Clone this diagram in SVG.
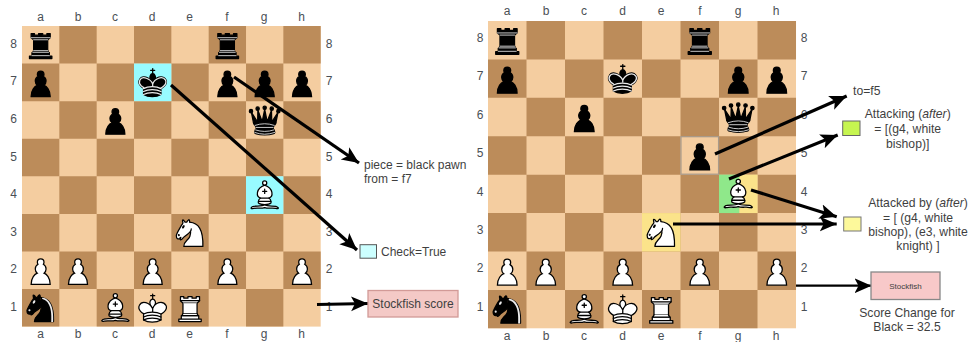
<svg xmlns="http://www.w3.org/2000/svg" xmlns:xlink="http://www.w3.org/1999/xlink" width="971" height="342" viewBox="0 0 971 342">
<style>
text{font-family:"Liberation Sans",Arial,sans-serif;font-size:12px;fill:#3f3f3f}
.c{fill:#4a4f55;font-size:12px;text-anchor:middle}
.m{text-anchor:middle;font-size:12.2px}
.r{font-size:12.2px}
.lt{fill:#f4cda0}.dk{fill:#bc8c5a}
.pc{fill-rule:evenodd;stroke:#000;stroke-width:1.5;stroke-linecap:round;stroke-linejoin:round}
.gy{fill:none;stroke:#ececec;stroke-width:1;stroke-linejoin:miter}
.ar{fill:none;stroke:#000;stroke-width:3.200;marker-end:url(#ah)}
</style>
<defs>
<marker id="ah" markerUnits="userSpaceOnUse" markerWidth="20" markerHeight="20" refX="17" refY="10" orient="auto"><path d="M0 2.500L17 10L0 17.500L4 10z" fill="#000"/></marker>
<g id="board"><rect class="lt" width="360" height="360"/><path class="dk" d="M45 0h45v45h-45zM135 0h45v45h-45zM225 0h45v45h-45zM315 0h45v45h-45zM0 45h45v45h-45zM90 45h45v45h-45zM180 45h45v45h-45zM270 45h45v45h-45zM45 90h45v45h-45zM135 90h45v45h-45zM225 90h45v45h-45zM315 90h45v45h-45zM0 135h45v45h-45zM90 135h45v45h-45zM180 135h45v45h-45zM270 135h45v45h-45zM45 180h45v45h-45zM135 180h45v45h-45zM225 180h45v45h-45zM315 180h45v45h-45zM0 225h45v45h-45zM90 225h45v45h-45zM180 225h45v45h-45zM270 225h45v45h-45zM45 270h45v45h-45zM135 270h45v45h-45zM225 270h45v45h-45zM315 270h45v45h-45zM0 315h45v45h-45zM90 315h45v45h-45zM180 315h45v45h-45zM270 315h45v45h-45z"/></g>
<path id="pawn" d="M22.500 9c-2.210 0-4 1.790-4 4 0 .89.29 1.710.78 2.380C17.330 16.500 16 18.590 16 21c0 2.030.94 3.840 2.410 5.030-3 1.060-7.410 5.550-7.410 13.470h23c0-7.920-4.410-12.410-7.410-13.470 1.470-1.190 2.410-3 2.410-5.030 0-2.410-1.330-4.500-3.280-5.620.49-.67.78-1.490.78-2.380 0-2.210-1.790-4-4-4z" stroke="#000" stroke-width="1.500" stroke-linecap="round"/>
<use id="bp" xlink:href="#pawn" href="#pawn" fill="#000"/>
<use id="wp" xlink:href="#pawn" href="#pawn" fill="#fff"/>
<g id="br" class="pc"><path d="M9 39h27v-3H9v3zM12.500 32l1.500-2.500h17l1.500 2.500h-20zM12 36v-4h21v4H12z" stroke-linecap="butt"/><path d="M14 29.500v-13h17v13H14z" stroke-linecap="butt" stroke-linejoin="miter"/><path d="M14 16.500L11 14h23l-3 2.500H14zM11 14V9h4v2h5V9h5v2h5V9h4v5H11z" stroke-linecap="butt"/><path class="gy" d="M12 35.500h21M13 31.500h19M14 29.500h17M14 16.500h17M11 14h23"/></g>
<g id="wr" class="pc" fill="#fff"><path d="M9 39h27v-3H9v3zM12 36v-4h21v4H12zM11 14V9h4v2h5V9h5v2h5V9h4v5" stroke-linecap="butt"/><path d="M34 14l-3 3H14l-3-3"/><path d="M31 17v12.500H14V17" stroke-linecap="butt" stroke-linejoin="miter"/><path d="M31 29.500l1.500 2.500h-20l1.500-2.500"/><path d="M11 14h23" fill="none" stroke-linejoin="miter"/></g>
<g id="wn" class="pc" fill="#fff"><path d="M22 10c10.500 1 16.500 8 16 29H15c0-9 10-6.500 8-21"/><path d="M24 18c.38 2.910-5.550 7.370-8 9-3 2-2.820 4.340-5 4-1.042-.94 1.410-3.040 0-3-1 0 .19 1.230-1 2-1 0-4.003 1-4-4 0-2 6-12 6-12s1.890-1.900 2-3.500c-.73-.994-.5-2-.5-3 1-1 3 2.500 3 2.500h2s.78-1.992 2.500-3c1 0 1 3 1 3"/><path d="M9.500 25.500a.5.5 0 1 1-1 0 .5.5 0 1 1 1 0zm5.433-9.750a.5 1.500 30 1 1-.866-.5.5 1.500 30 1 1 .866.5z" fill="#000"/></g>
<g id="bn" class="pc" fill="#000"><path d="M22 10c10.500 1 16.500 8 16 29H15c0-9 10-6.500 8-21"/><path d="M24 18c.38 2.910-5.550 7.370-8 9-3 2-2.820 4.340-5 4-1.042-.94 1.410-3.040 0-3-1 0 .19 1.230-1 2-1 0-4.003 1-4-4 0-2 6-12 6-12s1.890-1.900 2-3.500c-.73-.994-.5-2-.5-3 1-1 3 2.500 3 2.500h2s.78-1.992 2.500-3c1 0 1 3 1 3"/><path d="M9.500 25.500a.5.5 0 1 1-1 0 .5.5 0 1 1 1 0zm5.433-9.750a.5 1.500 30 1 1-.866-.5.5 1.500 30 1 1 .866.5z" fill="#ececec" stroke="#ececec"/><path d="M24.550 10.400l-.45 1.450.5.15c3.150 1 5.650 2.490 7.900 6.750S35.750 29.060 35.250 39l-.05.5h2.250l.05-.5c.5-10.060-.88-16.850-3.250-21.340-2.370-4.490-5.790-6.640-9.190-7.160l-.51-.1z" fill="#ececec" stroke="none"/></g>
<g id="wb" class="pc" fill="none"><g fill="#fff" stroke-linecap="butt"><path d="M9 36c3.390-.97 10.110.43 13.500-2 3.390 2.430 10.110 1.030 13.500 2 0 0 1.650.54 3 2-.68.97-1.650.99-3 .5-3.390-.97-10.110.46-13.500-1-3.390 1.460-10.110.03-13.500 1-1.354.49-2.323.47-3-.5 1.354-1.940 3-2 3-2z"/><path d="M15 32c2.500 2.500 12.500 2.500 15 0 .5-1.500 0-2 0-2 0-2.500-2.500-4-2.500-4 5.500-1.500 6-11.500-5-15.500-11 4-10.500 14-5 15.500 0 0-2.500 1.500-2.500 4 0 0-.5.5 0 2z"/><path d="M25 8a2.500 2.500 0 1 1-5 0 2.500 2.500 0 1 1 5 0z"/></g><path d="M17.500 26h10M15 30h15m-7.500-14.500v5M20 18h5" stroke-linejoin="miter"/></g>
<g id="wk" class="pc" fill="none"><path d="M22.500 11.630V6M20 8h5" stroke-linejoin="miter"/><path d="M22.500 25s4.500-7.500 3-10.500c0 0-1-2.500-3-2.500s-3 2.500-3 2.500c-1.500 3 3 10.500 3 10.500" fill="#fff" stroke-linecap="butt" stroke-linejoin="miter"/><path d="M11.500 37c5.500 3.500 15.500 3.500 21 0v-7s9-4.500 6-10.500c-4-6.500-13.500-3.500-16 4V27v-3.500c-3.500-7.500-13-10.500-16-4-3 6 5 10 5 10V37z" fill="#fff"/><path d="M11.500 30c5.500-3 15.500-3 21 0m-21 3.500c5.500-3 15.500-3 21 0m-21 3.500c5.500-3 15.500-3 21 0"/></g>
<g id="bk" class="pc" fill="none"><path d="M22.500 11.630V6" stroke-linejoin="miter"/><path d="M22.500 25s4.500-7.500 3-10.500c0 0-1-2.500-3-2.500s-3 2.500-3 2.500c-1.500 3 3 10.500 3 10.500" fill="#000" stroke-linecap="butt" stroke-linejoin="miter"/><path d="M11.500 37c5.500 3.500 15.500 3.500 21 0v-7s9-4.500 6-10.500c-4-6.500-13.500-3.500-16 4V27v-3.500c-3.500-7.500-13-10.500-16-4-3 6 5 10 5 10V37z" fill="#000"/><path d="M20 8h5" stroke-linejoin="miter"/><path d="M32 29.500s8.500-4 6.030-9.650C34.150 14 25 18 22.500 24.500l.01 2.100-.01-2.100C20 18 9.906 14 6.997 19.850c-2.497 5.650 4.853 9 4.853 9" stroke="#ececec"/><path d="M11.500 30c5.500-3 15.500-3 21 0m-21 3.500c5.500-3 15.500-3 21 0m-21 3.500c5.500-3 15.500-3 21 0" stroke="#ececec"/></g>
<g id="bq" class="pc" fill="#000"><path d="M9 26c8.500-1.500 21-1.500 27 0l2.500-12.500L31 25l-.3-14.100-5.200 13.600-3-14.500-3 14.500-5.200-13.600L14 25 6.500 13.500 9 26z" stroke-linecap="butt"/><path d="M9 26c0 2 1.500 2 2.500 4 1 1.500 1 1 .5 3.500-1.500 1-1 2.500-1 2.500-1.500 1.500 0 2.500 0 2.500 6.500 1 16.500 1 23 0 0 0 1.500-1 0-2.500 0 0 .5-1.500-1-2.500-.5-2.500-.5-2 .5-3.500 1-2 2.500-2 2.500-4-8.500-1.500-18.500-1.500-27 0z" stroke-linecap="butt"/><path d="M11 38.500a35 35 1 0 0 23 0" fill="none" stroke-linecap="butt"/><path class="gy" d="M11 29a35 35 1 0 1 23 0M12.500 31.500h20M11.500 34.500a35 35 1 0 0 22 0M10.500 37.500a35 35 1 0 0 24 0"/><circle cx="6" cy="12" r="2"/><circle cx="14" cy="9" r="2"/><circle cx="22.500" cy="8" r="2"/><circle cx="31" cy="9" r="2"/><circle cx="39" cy="12" r="2"/></g>
<g id="common">
<use href="#br" x="0" y="0"/><use href="#br" x="225" y="0"/>
<use href="#bp" x="0" y="45"/><use href="#bk" x="135" y="45"/><use href="#bp" x="270" y="45"/><use href="#bp" x="315" y="45"/>
<use href="#bp" x="90" y="90"/><use href="#bq" x="270" y="90"/>
<use href="#wb" x="270" y="180"/><use href="#wn" x="180" y="225"/>
<use href="#wp" x="0" y="270"/><use href="#wp" x="45" y="270"/><use href="#wp" x="135" y="270"/><use href="#wp" x="225" y="270"/><use href="#wp" x="315" y="270"/>
<use href="#bn" x="0" y="315"/><use href="#wb" x="90" y="315"/><use href="#wk" x="135" y="315"/><use href="#wr" x="180" y="315"/>
</g>
</defs>
<rect width="971" height="342" fill="#fff"/>

<g id="board-left">
<g transform="translate(22 26) scale(.8297 .8350)">
<use href="#board"/>
<rect x="135" y="45" width="45" height="45" fill="#98fbff"/>
<rect x="270" y="180" width="45" height="45" fill="#98fbff"/>
<use href="#common"/>
<use href="#bp" x="225" y="45"/>
</g>
<g class="c">
<text class="c" x="40.500" y="21">a</text><text class="c" x="78" y="21">b</text><text class="c" x="115" y="21">c</text><text class="c" x="152" y="21">d</text><text class="c" x="189.500" y="21">e</text><text class="c" x="227" y="21">f</text><text class="c" x="264" y="21">g</text><text class="c" x="301.500" y="21">h</text>
<text class="c" x="40.500" y="338">a</text><text class="c" x="78" y="338">b</text><text class="c" x="115" y="338">c</text><text class="c" x="152" y="338">d</text><text class="c" x="189.500" y="338">e</text><text class="c" x="227" y="338">f</text><text class="c" x="264" y="338">g</text><text class="c" x="301.500" y="338">h</text>
<text class="c" x="13.500" y="48">8</text><text class="c" x="13.500" y="85">7</text><text class="c" x="13.500" y="123">6</text><text class="c" x="13.500" y="161">5</text><text class="c" x="13.500" y="198">4</text><text class="c" x="13.500" y="236">3</text><text class="c" x="13.500" y="273">2</text><text class="c" x="13.500" y="311">1</text>
<text class="c" x="329" y="48">8</text><text class="c" x="329" y="85">7</text><text class="c" x="329" y="123">6</text><text class="c" x="329" y="161">5</text><text class="c" x="329" y="198">4</text><text class="c" x="329" y="236">3</text><text class="c" x="329" y="273">2</text><text class="c" x="329" y="311">1</text>
</g>
</g>

<g id="board-right">
<g transform="translate(488 21) scale(.8556 .8536)">
<use href="#board"/>
<rect x="225.500" y="135.500" width="44" height="44" fill="#f4cda0" stroke="#a89a8a" stroke-width="1.500"/>
<rect x="180" y="225" width="45" height="45" fill="#fbe38a"/>
<rect x="270" y="180" width="24" height="45" fill="#8fe88a"/>
<rect x="294" y="180" width="21" height="45" fill="#fbe38a"/>
<use href="#common"/>
<use href="#bp" x="225" y="135"/>
</g>
<g class="c">
<text class="c" x="507" y="15">a</text><text class="c" x="546" y="15">b</text><text class="c" x="584" y="15">c</text><text class="c" x="622.500" y="15">d</text><text class="c" x="661" y="15">e</text><text class="c" x="700" y="15">f</text><text class="c" x="738" y="15">g</text><text class="c" x="776" y="15">h</text>
<text class="c" x="507" y="340">a</text><text class="c" x="546" y="340">b</text><text class="c" x="584" y="340">c</text><text class="c" x="622.500" y="340">d</text><text class="c" x="661" y="340">e</text><text class="c" x="700" y="340">f</text><text class="c" x="738" y="340">g</text><text class="c" x="776" y="340">h</text>
<text class="c" x="480" y="42">8</text><text class="c" x="480" y="80">7</text><text class="c" x="480" y="119">6</text><text class="c" x="480" y="157">5</text><text class="c" x="480" y="196">4</text><text class="c" x="480" y="234">3</text><text class="c" x="480" y="272">2</text><text class="c" x="480" y="311">1</text>
<text class="c" x="804" y="42">8</text><text class="c" x="804" y="80">7</text><text class="c" x="804" y="119">6</text><text class="c" x="804" y="157">5</text><text class="c" x="804" y="196">4</text><text class="c" x="804" y="234">3</text><text class="c" x="804" y="272">2</text><text class="c" x="804" y="311">1</text>
</g>
</g>

<g id="connectors">
<path class="ar" d="M234 77L359 163"/>
<path class="ar" d="M171 85L357 250"/>
<path class="ar" d="M317 304.500L368 303.500"/>
<path class="ar" d="M715 154L846.700 96"/>
<path class="ar" d="M729 179L837.700 135"/>
<path class="ar" d="M751 190L836.700 216.700"/>
<path class="ar" d="M673 224H836.700"/>
<path class="ar" style="stroke-width:2.200" d="M796 285.700H871.500"/>
</g>

<g id="label-piece"><text x="364" y="169">piece = black pawn</text><text x="364" y="183">from = f7</text></g>
<g id="label-check"><rect x="360" y="244.700" width="16.500" height="13.500" fill="#ccffff" stroke="#555"/><text x="381" y="256">Check=True</text></g>
<g id="stockfish-score"><rect x="368" y="290.500" width="90" height="26.500" fill="#f4c9c6" stroke="#d29a97" stroke-width="1.300"/><text class="m" style="font-size:12px" x="413" y="308">Stockfish score</text></g>
<g id="label-to"><text class="r" x="853" y="95">to=f5</text></g>
<g id="label-attacking"><rect x="842.700" y="121" width="17.300" height="14.500" fill="#c6f550" stroke="#666"/><text class="m" x="907.700" y="118">Attacking (<tspan font-style="italic">after</tspan>)</text><text class="m" x="907.700" y="133">= [(g4, white</text><text class="m" x="907.700" y="147.500">bishop)]</text></g>
<g id="label-attacked"><rect x="843.700" y="217" width="17.300" height="14" fill="#fdf99b" stroke="#777"/><text class="m" x="918" y="207">Attacked by (<tspan font-style="italic">after</tspan>)</text><text class="m" x="918" y="221.500">= [ (g4, white</text><text class="m" x="918" y="236">bishop), (e3, white</text><text class="m" x="918" y="250">knight) ]</text></g>
<g id="stockfish-change"><rect x="871" y="272" width="69" height="27.500" fill="#f8c9c9" stroke="#888" stroke-width="1.300"/><text class="m" style="font-size:8px" x="905.500" y="289">Stockfish</text><text class="m" x="907" y="316.500">Score Change for</text><text class="m" x="907" y="331">Black = 32.5</text></g>
</svg>
